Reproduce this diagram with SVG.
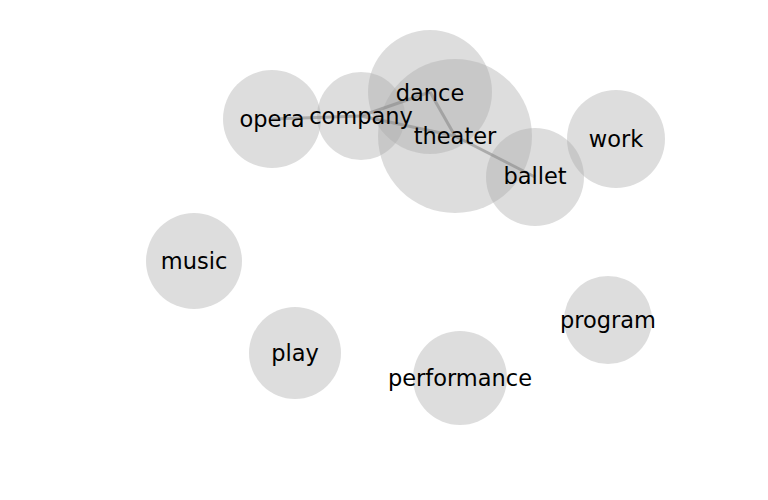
<svg xmlns="http://www.w3.org/2000/svg" width="768" height="500" viewBox="0 0 768 500">
<style>
.n circle{fill:#ababab;fill-opacity:0.4}
.n text{font-family:"DejaVu Sans",sans-serif;font-size:22.5px;fill:#000;text-anchor:middle;dominant-baseline:central}
.e line{stroke:#8a8a8a;stroke-opacity:0.6;stroke-width:3}
</style>
<rect width="768" height="500" fill="#fff"/>
<g id="n-theater" class="n"><circle cx="455" cy="136" r="77"/></g>
<g id="n-dance" class="n"><circle cx="430" cy="92" r="62"/></g>
<g id="n-company" class="n"><circle cx="361" cy="116" r="44"/></g>
<g id="n-opera" class="n"><circle cx="272" cy="119" r="49"/></g>
<g id="n-ballet" class="n"><circle cx="535" cy="177" r="49"/></g>
<g id="n-work" class="n"><circle cx="616" cy="139" r="49"/><text x="616" y="139">work</text></g>
<g id="n-music" class="n"><circle cx="194" cy="261" r="48"/><text x="194" y="261">music</text></g>
<g id="n-play" class="n"><circle cx="295" cy="353" r="46"/><text x="295" y="353">play</text></g>
<g id="n-performance" class="n"><circle cx="460" cy="378" r="47"/><text x="460" y="378">performance</text></g>
<g id="n-program" class="n"><circle cx="608" cy="320" r="44"/><text x="608" y="320">program</text></g>
<g id="edges" class="e">
<line x1="272" y1="119" x2="361" y2="116"/>
<line x1="361" y1="116" x2="430" y2="92"/>
<line x1="361" y1="116" x2="455" y2="136"/>
<line x1="430" y1="92" x2="455" y2="136"/>
<line x1="455" y1="136" x2="535" y2="177"/>
</g>
<g class="n">
<text x="455" y="136">theater</text>
<text x="430" y="93">dance</text>
<text x="361" y="116">company</text>
<text x="272" y="119">opera</text>
<text x="535" y="176">ballet</text>
</g>
</svg>
